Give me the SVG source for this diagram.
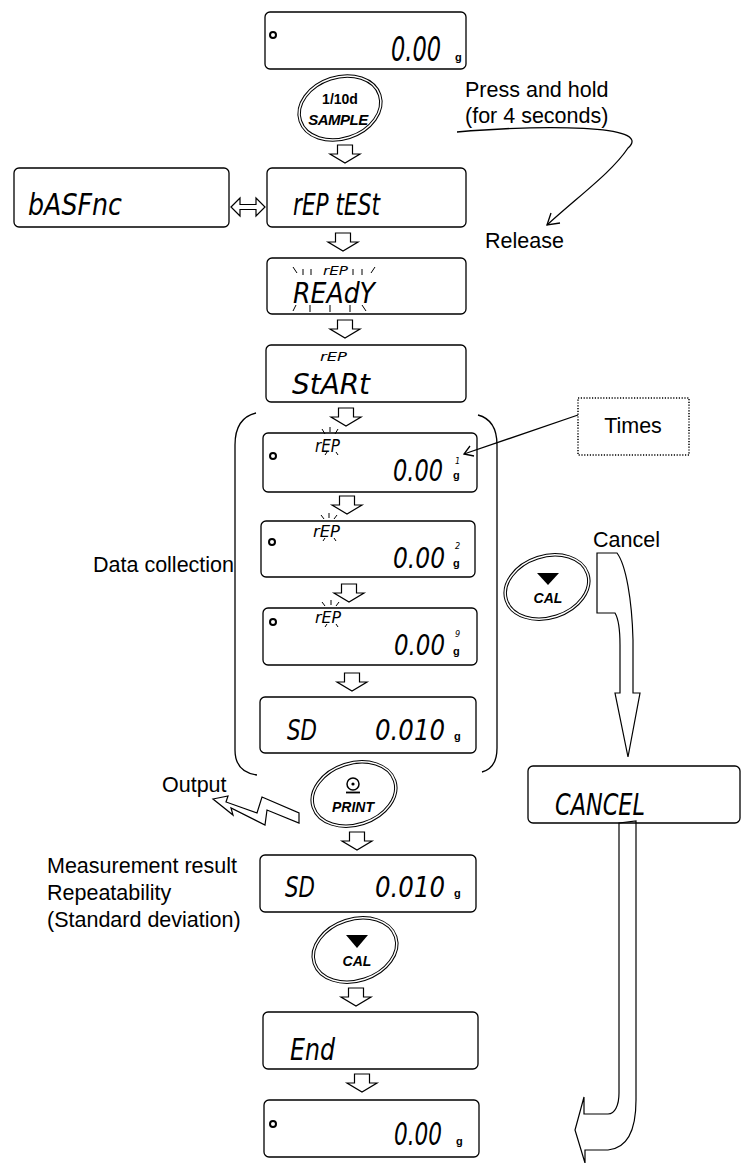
<svg xmlns="http://www.w3.org/2000/svg" width="741" height="1163" viewBox="0 0 741 1163">
<style>
.box{fill:none;stroke:#000;stroke-width:1.3}
.seg{font-family:"Liberation Sans Narrow","DejaVu Sans Condensed","Liberation Sans",sans-serif;font-style:italic;fill:#000}
.lbl{font-family:"Liberation Sans",Arial,sans-serif;font-size:21.5px;fill:#000}
.btn{font-family:"Liberation Sans",Arial,sans-serif;font-weight:bold;fill:#000;text-anchor:middle}
.unit{font-family:"Liberation Sans",Arial,sans-serif;font-weight:bold;font-size:11px;fill:#000}
.dot{fill:none;stroke:#000;stroke-width:2}
.ray{stroke:#000;stroke-width:1;fill:none}
.ol{fill:#fff;stroke:#000;stroke-width:1.2;stroke-linejoin:miter}
.ln{fill:none;stroke:#000;stroke-width:1.3}
.ell{fill:none;stroke:#000;stroke-width:1}
</style>
<defs>
<path id="da" d="M-7.5,0 H7.5 V9 H15 L0,18 L-15,9 H-7.5 Z" class="ol"/>
</defs>

<g id="connectors">
<use href="#da" x="345" y="145"/>
<use href="#da" x="343" y="233"/>
<use href="#da" x="345" y="320"/>
<use href="#da" x="346" y="408"/>
<use href="#da" x="347" y="496"/>
<use href="#da" x="349" y="584"/>
<use href="#da" x="352" y="673"/>
<use href="#da" x="357" y="832"/>
<use href="#da" x="356" y="988"/>
<use href="#da" x="362" y="1074"/>
<path class="ol" d="M231,207 L240,198 V204.5 H256 V198 L265,207 L256,216 V209.5 H240 V216 Z"/>
<path class="ln" d="M457,132 C540,125 655,124 628,148 C612,172 580,195 547,225"/>
<path class="ln" d="M551,213 L547,225 L560,223"/>
<path class="ln" d="M578,415 L464,454"/>
<path class="ln" d="M470,446 L464,454 L474,456"/>
<path class="ol" d="M597,553 H617 C626,565 632,600 633,640 V693 H640 L628,757 L615,693 H620 V645 C620,628 618,618 615,613 H597 Z"/>
<path class="ol" d="M619,823 L636,821 V1100 C636,1125 630,1148 608,1150 H585 V1163 L575,1130 L584,1097 V1114 H608 C615,1114 619,1105 619,1093 Z"/>
<path class="ol" d="M213,799 L228,796 L226,802 L257,813 L262,797 L299,813 L299,823 L267,810 L265,825 L231,808 L233,815 Z"/>
</g>

<g id="bracket">
<path class="ln" stroke-width="1.6" d="M256,413 Q235,418 235,445 V750 Q235,772 257,775"/>
<path class="ln" stroke-width="1.6" d="M478,415 Q497,420 497,445 V748 Q497,768 482,772"/>
</g>

<g id="disp-start">
<rect class="box" x="265" y="12" width="201" height="57" rx="5"/>
<circle class="dot" cx="273" cy="35" r="3"/>
<text class="seg" x="391" y="61" font-size="33" textLength="50" lengthAdjust="spacingAndGlyphs">0.00</text>
<text class="unit" x="455" y="61">g</text>
</g>

<g id="btn-sample">
<ellipse class="ell" cx="340" cy="108" rx="43" ry="32" transform="rotate(-18 340 108)"/>
<ellipse class="ell" cx="340" cy="108" rx="40.5" ry="29.5" transform="rotate(-18 340 108)"/>
<text class="btn" x="340" y="104" font-size="14">1/10d</text>
<text class="btn" x="338" y="125" font-size="15" font-style="italic" letter-spacing="-0.5">SAMPLE</text>
</g>

<g id="lbl-press">
<text class="lbl" x="465" y="97">Press and hold</text>
<text class="lbl" x="465" y="123">(for 4 seconds)</text>
</g>
<g id="lbl-release"><text class="lbl" x="485" y="248">Release</text></g>

<g id="disp-basfnc">
<rect class="box" x="14" y="168" width="215" height="59" rx="5"/>
<text class="seg" x="28" y="215" font-size="30" textLength="94" lengthAdjust="spacingAndGlyphs">bASFnc</text>
</g>

<g id="disp-reptest">
<rect class="box" x="267" y="168" width="199" height="59" rx="5"/>
<text class="seg" x="293" y="215" font-size="30" textLength="87" lengthAdjust="spacingAndGlyphs">rEP tESt</text>
</g>

<g id="disp-ready">
<rect class="box" x="267" y="258" width="199" height="56" rx="5"/>
<text class="seg" x="323" y="275" font-size="12" textLength="25" lengthAdjust="spacingAndGlyphs">rEP</text>
<text class="seg" x="293" y="303" font-size="29" textLength="82" lengthAdjust="spacingAndGlyphs">REAdY</text>
<path class="ray" d="M293,267 L297,273 M303,269 V275 M311,269 V275 M353,269 V275 M362,269 V275 M375,267 L371,273 M296,305 L293,311 M310,305 V312 M330,305 V312 M350,305 V312 M362,305 L366,311"/>
</g>

<g id="disp-start2">
<rect class="box" x="266" y="345" width="200" height="57" rx="5"/>
<text class="seg" x="320" y="361" font-size="12" textLength="27" lengthAdjust="spacingAndGlyphs">rEP</text>
<text class="seg" x="292" y="394" font-size="29" textLength="78" lengthAdjust="spacingAndGlyphs">StARt</text>
</g>

<g id="lbl-times">
<rect x="578" y="398" width="111" height="57" fill="#fff" stroke="#000" stroke-width="1.5" stroke-dasharray="1.2 1.6"/>
<text class="lbl" x="633" y="433" text-anchor="middle">Times</text>
</g>

<g id="disp-1">
<rect class="box" x="263" y="433" width="214" height="59" rx="5"/>
<circle class="dot" cx="273" cy="456" r="3"/>
<text class="seg" x="315" y="452" font-size="17" textLength="25" lengthAdjust="spacingAndGlyphs">rEP</text>
<path class="ray" d="M322,429 L325,434 M330,427 V432 M338,429 L335,434 M325,455 L327,452 M338,455 L336,452"/>
<text class="seg" x="393" y="481" font-size="30" textLength="50" lengthAdjust="spacingAndGlyphs">0.00</text>
<text class="seg" x="455" y="464" font-size="9">1</text>
<text class="unit" x="453" y="479">g</text>
</g>

<g id="disp-2">
<rect class="box" x="261" y="521" width="214" height="56" rx="5"/>
<circle class="dot" cx="272" cy="542" r="3"/>
<text class="seg" x="313" y="537" font-size="16" textLength="27" lengthAdjust="spacingAndGlyphs">rEP</text>
<path class="ray" d="M321,515 L324,519 M329,513 V518 M337,515 L334,519 M323,541 L325,538 M336,541 L334,538"/>
<text class="seg" x="393" y="568" font-size="29" textLength="52" lengthAdjust="spacingAndGlyphs">0.00</text>
<text class="seg" x="455" y="549" font-size="9">2</text>
<text class="unit" x="453" y="567">g</text>
</g>

<g id="disp-3">
<rect class="box" x="263" y="608" width="214" height="57" rx="5"/>
<circle class="dot" cx="273" cy="622" r="3"/>
<text class="seg" x="315" y="623" font-size="16" textLength="26" lengthAdjust="spacingAndGlyphs">rEP</text>
<path class="ray" d="M322,602 L325,606 M331,600 V605 M339,602 L336,606 M325,627 L327,624 M338,627 L336,624"/>
<text class="seg" x="394" y="655" font-size="29" textLength="51" lengthAdjust="spacingAndGlyphs">0.00</text>
<text class="seg" x="455" y="637" font-size="9">9</text>
<text class="unit" x="453" y="655">g</text>
</g>

<g id="disp-sd1">
<rect class="box" x="260" y="697" width="216" height="56" rx="5"/>
<text class="seg" x="287" y="740" font-size="29" textLength="30" lengthAdjust="spacingAndGlyphs">SD</text>
<text class="seg" x="375" y="740" font-size="29" textLength="70" lengthAdjust="spacingAndGlyphs">0.010</text>
<text class="unit" x="454" y="740">g</text>
</g>

<g id="lbl-data"><text class="lbl" x="93" y="572" font-size="21">Data collection</text></g>

<g id="lbl-cancel"><text class="lbl" x="593" y="547">Cancel</text></g>

<g id="btn-cal1">
<ellipse class="ell" cx="547" cy="587" rx="44" ry="32" transform="rotate(-18 547 587)"/>
<ellipse class="ell" cx="547" cy="587" rx="41.5" ry="29.5" transform="rotate(-18 547 587)"/>
<path d="M537,573 H559 L548,585 Z" fill="#000"/>
<text class="btn" x="548" y="603" font-size="14" font-style="italic">CAL</text>
</g>

<g id="disp-cancel">
<rect class="box" x="528" y="766" width="212" height="57" rx="5"/>
<text class="seg" x="555" y="815" font-size="31" textLength="90" lengthAdjust="spacingAndGlyphs">CANCEL</text>
</g>

<g id="lbl-output"><text class="lbl" x="162" y="792">Output</text></g>

<g id="btn-print">
<ellipse class="ell" cx="354" cy="794" rx="44" ry="32" transform="rotate(-18 354 794)"/>
<ellipse class="ell" cx="354" cy="794" rx="41.5" ry="29.5" transform="rotate(-18 354 794)"/>
<circle cx="353" cy="784" r="6" fill="none" stroke="#000" stroke-width="1.5"/>
<circle cx="353" cy="784" r="1.6" fill="#000"/>
<path d="M346,792.5 H360" stroke="#000" stroke-width="1.8"/>
<text class="btn" x="353" y="812" font-size="14" font-style="italic">PRINT</text>
</g>

<g id="lbl-result">
<text class="lbl" x="47" y="873">Measurement result</text>
<text class="lbl" x="47" y="900">Repeatability</text>
<text class="lbl" x="47" y="927">(Standard deviation)</text>
</g>

<g id="disp-sd2">
<rect class="box" x="260" y="855" width="216" height="57" rx="5"/>
<text class="seg" x="285" y="897" font-size="29" textLength="30" lengthAdjust="spacingAndGlyphs">SD</text>
<text class="seg" x="375" y="897" font-size="29" textLength="70" lengthAdjust="spacingAndGlyphs">0.010</text>
<text class="unit" x="454" y="897">g</text>
</g>

<g id="btn-cal2">
<ellipse class="ell" cx="355" cy="950" rx="44" ry="32" transform="rotate(-18 355 950)"/>
<ellipse class="ell" cx="355" cy="950" rx="41.5" ry="29.5" transform="rotate(-18 355 950)"/>
<path d="M346,935 H368 L357,948 Z" fill="#000"/>
<text class="btn" x="357" y="966" font-size="14" font-style="italic">CAL</text>
</g>

<g id="disp-end">
<rect class="box" x="263" y="1012" width="215" height="57" rx="5"/>
<text class="seg" x="290" y="1060" font-size="30" textLength="45" lengthAdjust="spacingAndGlyphs">End</text>
</g>

<g id="disp-final">
<rect class="box" x="264" y="1100" width="215" height="57" rx="5"/>
<circle class="dot" cx="273" cy="1124" r="3"/>
<text class="seg" x="394" y="1145" font-size="32" textLength="48" lengthAdjust="spacingAndGlyphs">0.00</text>
<text class="unit" x="456" y="1145">g</text>
</g>
</svg>
